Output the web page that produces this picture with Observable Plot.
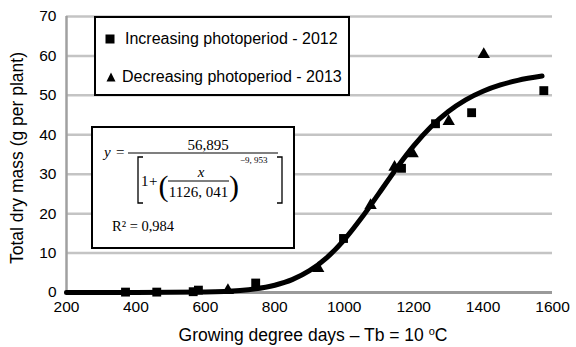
<!DOCTYPE html>
<html>
<head>
<meta charset="utf-8">
<script src="https://cdn.jsdelivr.net/npm/d3@7"></script>
<script src="https://cdn.jsdelivr.net/npm/@observablehq/plot@0.6"></script>
<style>
  html, body { margin: 0; padding: 0; background: #fff; }
  #chart { width: 576px; height: 347px; }
</style>
</head>
<body>
<div id="chart"></div>
<script>
// ---- data ----
const gdd2012  = [370, 460, 565, 580, 745, 998, 1165, 1263, 1367, 1575];
const mass2012 = [0.1, 0.1, 0.2, 0.6, 2.4, 13.7, 31.5, 42.8, 45.6, 51.2];
const gdd2013  = [665, 925, 1076, 1145, 1197, 1301, 1402];
const mass2013 = [0.5, 6.1, 22.1, 31.8, 35.2, 43.4, 60.4];
// fitted curve, sampled
const curveX = [200, 400, 600, 700, 800, 850, 900, 950, 1000, 1050, 1100, 1150, 1200, 1250, 1300, 1350, 1400, 1450, 1500, 1570];
const curveY = [0, 0.002, 0.11, 0.50, 1.83, 3.26, 5.52, 8.85, 13.36, 18.93, 25.15, 31.41, 37.17, 42.03, 45.90, 48.86, 51.05, 52.64, 53.80, 54.89];
const xTicks = [200, 400, 600, 800, 1000, 1200, 1400, 1600];
const yTicks = [0, 10, 20, 30, 40, 50, 60, 70];
const gridY = [10, 20, 30, 40, 50, 60, 70];
const legendLabels = ["Increasing photoperiod - 2012", "Decreasing photoperiod - 2013"];

const s2012 = gdd2012.map((x, i) => ({x, y: mass2012[i]}));
const s2013 = gdd2013.map((x, i) => ({x, y: mass2013[i]}));
const curve = curveX.map((x, i) => ({x, y: curveY[i]}));

const plot = Plot.plot({
  width: 576,
  height: 347,
  marginLeft: 66,
  marginRight: 24,
  marginTop: 16,
  marginBottom: 55,
  style: {fontFamily: "'Liberation Sans', Arial, sans-serif", fontSize: "15px", color: "#000", background: "#fff"},
  x: {domain: [200, 1600]},
  y: {domain: [0, 70]},
  marks: [
    Plot.ruleY(gridY, {stroke: "#c4c4c4", strokeWidth: 2.5}),
    Plot.ruleX([200], {stroke: "#a0a0a0", strokeWidth: 2.5}),
    Plot.ruleY([0], {stroke: "#9a9a9a", strokeWidth: 3}),
    Plot.axisX({ticks: xTicks, tickSize: 0, tickPadding: 8, label: null, fontSize: 15.5, tickFormat: d => String(d)}),
    Plot.axisY({ticks: yTicks, tickSize: 0, tickPadding: 10, label: null, fontSize: 15.5, tickFormat: d => String(d)}),
    Plot.line(curve, {x: "x", y: "y", stroke: "#000", strokeWidth: 5, curve: "monotone-x"}),
    Plot.dot(s2012, {x: "x", y: "y", symbol: "square", r: 5, fill: "#000", stroke: "none"}),
    Plot.dot(s2013, {x: "x", y: "y", symbol: "triangle", r: 4.6, fill: "#000", stroke: "none"})
  ]
});
document.getElementById("chart").appendChild(plot);

const svg = d3.select(plot);
const sans = "'Liberation Sans', Arial, sans-serif";
const serif = "'Liberation Serif', 'Times New Roman', serif";

// axis titles
const xt = svg.append("text").attr("x", 313).attr("y", 341).attr("text-anchor", "middle")
  .attr("font-family", sans).attr("font-size", 17.5).attr("fill", "#000");
xt.append("tspan").text("Growing degree days \u2013 Tb = 10 ");
xt.append("tspan").attr("font-size", 11).attr("dy", -6).text("o");
xt.append("tspan").attr("dy", 6).text("C");

svg.append("text").attr("transform", "translate(23,158) rotate(-90)").attr("text-anchor", "middle")
  .attr("font-family", sans).attr("font-size", 17.5).attr("fill", "#000")
  .text("Total dry mass (g per plant)");

// legend box
const lg = svg.append("g").attr("text-anchor", "start").attr("fill", "#000");
lg.append("rect").attr("x", 95).attr("y", 17).attr("width", 254).attr("height", 78)
  .attr("fill", "#fff").attr("stroke", "#000").attr("stroke-width", 2);
lg.append("rect").attr("x", 105.5).attr("y", 34.5).attr("width", 9).attr("height", 9).attr("fill", "#000");
lg.append("path").attr("d", "M111,72.5 L115.5,81.5 L106.5,81.5 Z").attr("fill", "#000");
lg.append("text").attr("x", 125).attr("y", 44).attr("font-family", sans).attr("font-size", 16).text(legendLabels[0]);
lg.append("text").attr("x", 122).attr("y", 82).attr("font-family", sans).attr("font-size", 16).text(legendLabels[1]);

// equation box
const eq = svg.append("g").attr("font-family", serif).attr("fill", "#000").attr("text-anchor", "start");
eq.append("rect").attr("x", 92).attr("y", 127).attr("width", 202).attr("height", 121)
  .attr("fill", "#fff").attr("stroke", "#000").attr("stroke-width", 2);
eq.append("text").attr("x", 104).attr("y", 157).attr("font-size", 15).attr("font-style", "italic").text("y");
eq.append("text").attr("x", 116).attr("y", 157).attr("font-size", 15).text("=");
eq.append("line").attr("x1", 128).attr("x2", 278).attr("y1", 153).attr("y2", 153).attr("stroke", "#000").attr("stroke-width", 1.2);
eq.append("text").attr("x", 208).attr("y", 150).attr("font-size", 15).attr("text-anchor", "middle").text("56,895");
// brackets
eq.append("path").attr("d", "M143,157 L138,157 L138,203 L143,203").attr("fill", "none").attr("stroke", "#000").attr("stroke-width", 1.3);
eq.append("path").attr("d", "M277,157 L282,157 L282,203 L277,203").attr("fill", "none").attr("stroke", "#000").attr("stroke-width", 1.3);
eq.append("text").attr("x", 141).attr("y", 186).attr("font-size", 15).text("1");
eq.append("text").attr("x", 149).attr("y", 186).attr("font-size", 15).text("+");
eq.append("text").attr("x", 158.5).attr("y", 196).attr("font-size", 30).text("(");
eq.append("text").attr("x", 229).attr("y", 196).attr("font-size", 30).text(")");
eq.append("text").attr("x", 201).attr("y", 177).attr("font-size", 15).attr("font-style", "italic").attr("text-anchor", "middle").text("x");
eq.append("line").attr("x1", 168).attr("x2", 229).attr("y1", 181).attr("y2", 181).attr("stroke", "#000").attr("stroke-width", 1.2);
eq.append("text").attr("x", 198.5).attr("y", 197).attr("font-size", 15).attr("text-anchor", "middle").text("1126, 041");
eq.append("text").attr("x", 240).attr("y", 163).attr("font-size", 9).text("\u22129, 953");
eq.append("text").attr("x", 112).attr("y", 231).attr("font-size", 14.5).text("R\u00B2 = 0,984");
</script>
</body>
</html>
